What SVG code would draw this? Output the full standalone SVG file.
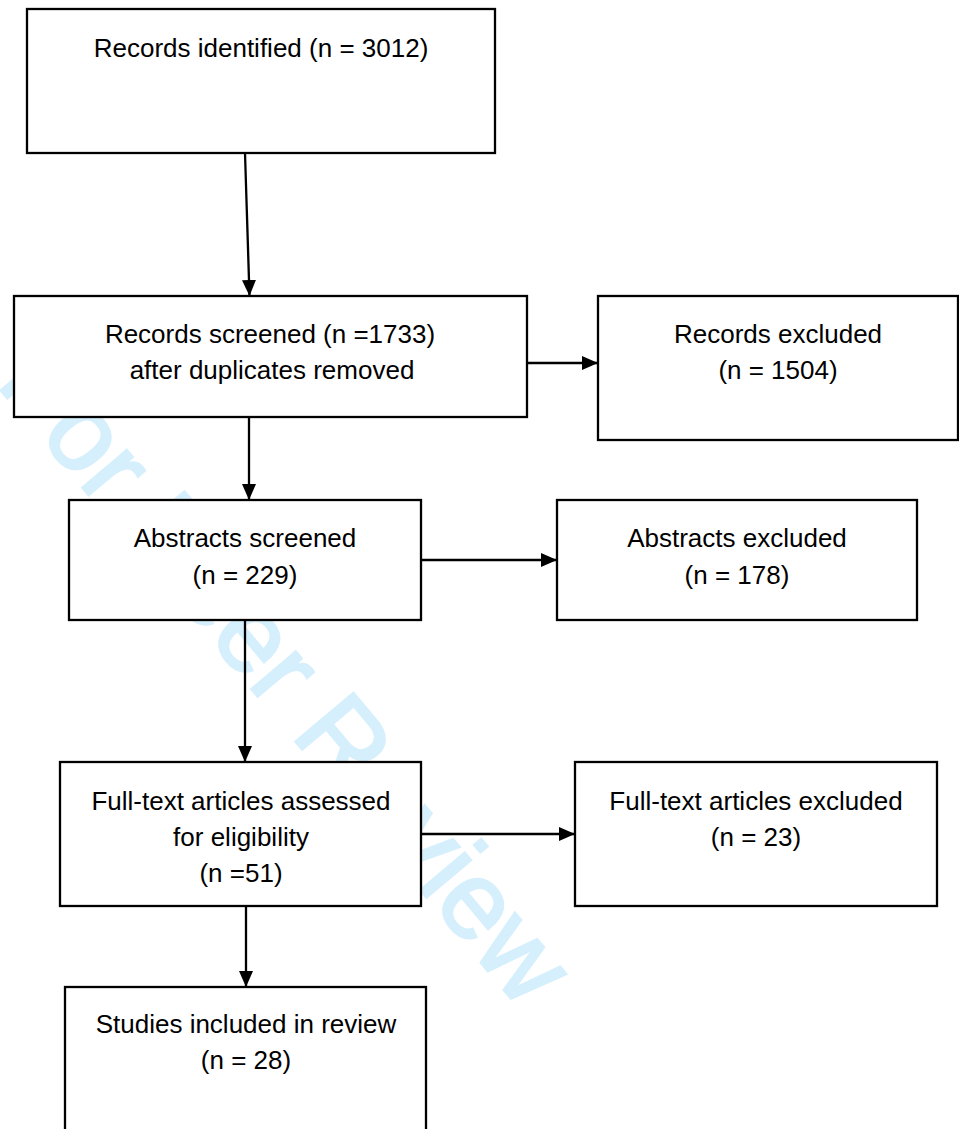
<svg xmlns="http://www.w3.org/2000/svg" width="959" height="1129" viewBox="0 0 959 1129">
<defs>
<style>
.box{fill:#ffffff;stroke:#000000;stroke-width:2.3}
.t{font-family:"Liberation Sans",Arial,sans-serif;font-size:26px;fill:#000000;text-anchor:middle}
.c{fill:none;stroke:#000000;stroke-width:2.3}
.wm{font-family:"Liberation Sans",Arial,sans-serif;font-size:110px;fill:#d5effc;stroke:#d5effc;stroke-width:2.5}
</style>
<marker id="ah" markerUnits="userSpaceOnUse" markerWidth="17" markerHeight="15" refX="16" refY="7" orient="auto">
<path d="M0,0 L16,7 L0,14 Z" fill="#000000"/>
</marker>
</defs>
<rect width="959" height="1129" fill="#ffffff"/>
<text class="wm" transform="translate(-5,383.5) rotate(50)">For Peer Review</text>
<g id="connectors">
<line class="c" x1="245" y1="153" x2="249.5" y2="296" marker-end="url(#ah)"/>
<line class="c" x1="249" y1="417" x2="249" y2="500" marker-end="url(#ah)"/>
<line class="c" x1="527" y1="363" x2="598" y2="363" marker-end="url(#ah)"/>
<line class="c" x1="421" y1="560" x2="557" y2="560" marker-end="url(#ah)"/>
<line class="c" x1="245" y1="620" x2="245" y2="762" marker-end="url(#ah)"/>
<line class="c" x1="421" y1="834" x2="575" y2="834" marker-end="url(#ah)"/>
<line class="c" x1="246" y1="906" x2="246" y2="987" marker-end="url(#ah)"/>
</g>
<g id="identified">
<rect class="box" x="27" y="9" width="468" height="144"/>
<text class="t" x="261" y="57">Records identified (n = 3012)</text>
</g>
<g id="screened">
<rect class="box" x="14" y="296" width="513" height="121"/>
<text class="t" x="270" y="343">Records screened (n =1733)</text>
<text class="t" x="272" y="379">after duplicates removed</text>
</g>
<g id="records-excluded">
<rect class="box" x="598" y="296" width="360" height="144"/>
<text class="t" x="778" y="343">Records excluded</text>
<text class="t" x="778" y="379">(n = 1504)</text>
</g>
<g id="abstracts">
<rect class="box" x="69" y="500" width="352" height="120"/>
<text class="t" x="245" y="547">Abstracts screened</text>
<text class="t" x="245" y="584">(n = 229)</text>
</g>
<g id="abstracts-excluded">
<rect class="box" x="557" y="500" width="360" height="120"/>
<text class="t" x="737" y="547">Abstracts excluded</text>
<text class="t" x="737" y="584">(n = 178)</text>
</g>
<g id="fulltext">
<rect class="box" x="60" y="762" width="361" height="144"/>
<text class="t" x="241" y="810">Full-text articles assessed</text>
<text class="t" x="241" y="846">for eligibility</text>
<text class="t" x="241" y="882">(n =51)</text>
</g>
<g id="fulltext-excluded">
<rect class="box" x="575" y="762" width="362" height="144"/>
<text class="t" x="756" y="810">Full-text articles excluded</text>
<text class="t" x="756" y="846">(n = 23)</text>
</g>
<g id="included">
<rect class="box" x="65" y="987" width="361" height="160"/>
<text class="t" x="246" y="1033">Studies included in review</text>
<text class="t" x="246" y="1069">(n = 28)</text>
</g>
</svg>
